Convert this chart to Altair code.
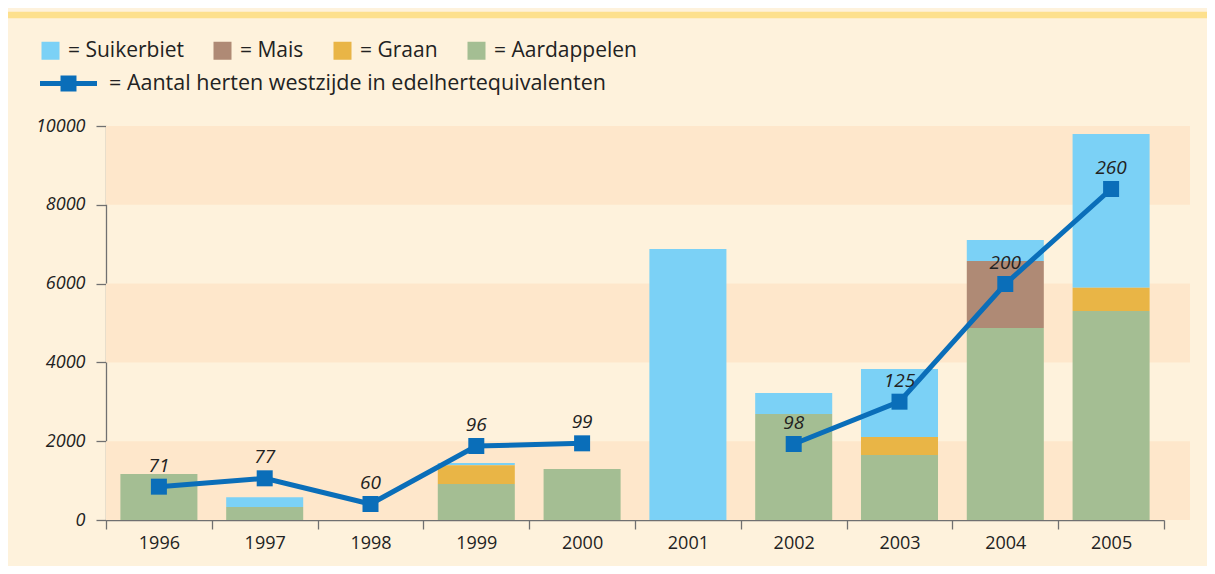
import altair as alt
import pandas as pd

# ---- data ----
years = ["1996", "1997", "1998", "1999", "2000", "2001", "2002", "2003", "2004", "2005"]
suikerbiet = [0, 250, 0, 60, 0, 6880, 533, 1725, 534, 3900]
mais = [0, 0, 0, 0, 0, 0, 0, 0, 1700, 0]
graan = [0, 0, 0, 473, 0, 0, 0, 457, 0, 591]
aardappelen = [1170, 330, 0, 914, 1294, 0, 2690, 1650, 4873, 5305]
herten_y = [846, 1058, 406, 1878, 1946, None, 1929, 3003, 5990, 8401]
herten_label = [71, 77, 60, 96, 99, None, 98, 125, 200, 260]
segment = [1, 1, 1, 1, 1, None, 2, 2, 2, 2]

crops = ["Suikerbiet", "Mais", "Graan", "Aardappelen"]
crop_colors = ["#7BD1F6", "#AF8A75", "#E9B546", "#A4BE93"]
stack_order = {"Aardappelen": 0, "Graan": 1, "Mais": 2, "Suikerbiet": 3}
line_name = "Aantal herten westzijde in edelhertequivalenten"
y_ticks = [0, 2000, 4000, 6000, 8000, 10000]
band_starts = [0, 4000, 8000]

FONT = "Open Sans"
BLUE = "#0A6EB9"
BG = "#FEF2DC"
BAND = "#FEE7CB"
AXIS = "#707070"
TXT = "#222222"
LEG_FS = 21

rows = []
for name, vals in zip(crops, [suikerbiet, mais, graan, aardappelen]):
    for y, v in zip(years, vals):
        if v > 0:
            rows.append({"jaar": y, "gewas": name, "waarde": v, "volgorde": stack_order[name]})
bars_df = pd.DataFrame(rows)

line_df = pd.DataFrame({"jaar": years, "herten": herten_y, "label": herten_label,
                        "seg": segment, "reeks": [line_name] * len(years)}).dropna()
bands_df = pd.DataFrame({"start": band_starts, "end": [s + 2000 for s in band_starts]})

W, H = 1058, 394

xscale = alt.Scale(domain=years, paddingInner=0, paddingOuter=0)
yscale = alt.Scale(domain=[0, 10000], nice=False)

x_enc = alt.X("jaar:N", scale=xscale, sort=years,
              axis=alt.Axis(title=None, labelAngle=0, tickBand="extent", tickSize=9,
                            labelFontSize=18, labelFont=FONT, labelColor=TXT, labelPadding=5,
                            domainColor=AXIS, tickColor=AXIS, domainWidth=1.3, tickWidth=1.3))

bands = alt.Chart(bands_df).mark_rect(color=BAND).encode(
    y=alt.Y("start:Q", scale=yscale,
            axis=alt.Axis(title=None, values=y_ticks, format="d", grid=False,
                          labelFontStyle="italic", labelFontSize=18, labelFont=FONT,
                          labelColor=TXT, tickSize=10, labelPadding=11,
                          domainColor=AXIS, tickColor=AXIS, domainWidth=1.3, tickWidth=1.3)),
    y2="end:Q",
    x=alt.value(0),
    x2=alt.value(1084),
)

bars = alt.Chart(bars_df).mark_bar(width=alt.RelativeBandSize(0.728)).encode(
    x=x_enc,
    y=alt.Y("waarde:Q", stack="zero", scale=yscale),
    color=alt.Color("gewas:N", scale=alt.Scale(domain=crops, range=crop_colors),
                    legend=alt.Legend(orient="none", legendX=-66, legendY=-86,
                                      direction="horizontal", title=None,
                                      symbolType="square", symbolSize=324,
                                      symbolStrokeWidth=0, symbolOpacity=1,
                                      labelExpr="'= ' + datum.label",
                                      labelFontSize=LEG_FS, labelFont=FONT, labelColor=TXT,
                                      labelLimit=0, labelOffset=7, columnPadding=28)),
    order=alt.Order("volgorde:Q"),
)

line = alt.Chart(line_df).mark_line(color=BLUE, strokeWidth=5).encode(
    x=alt.X("jaar:N", scale=xscale, sort=years),
    y=alt.Y("herten:Q", scale=yscale),
    detail="seg:N",
)

legend_path = ("M-1,-0.088 L-0.28,-0.088 L-0.28,-0.28 L0.28,-0.28 L0.28,-0.088 L1,-0.088 "
               "L1,0.088 L0.28,0.088 L0.28,0.28 L-0.28,0.28 L-0.28,0.088 L-1,0.088 Z")

points = alt.Chart(line_df).mark_point(filled=True, shape="square", size=256, opacity=1).encode(
    x=alt.X("jaar:N", scale=xscale, sort=years),
    y=alt.Y("herten:Q", scale=yscale),
    fill=alt.Fill("reeks:N", scale=alt.Scale(domain=[line_name], range=[BLUE]),
                  legend=alt.Legend(orient="none", legendX=-66, legendY=-71, title=None,
                                    symbolType=legend_path, symbolSize=3249,
                                    symbolStrokeWidth=0, symbolOpacity=1,
                                    labelExpr="'= ' + datum.label",
                                    labelFontSize=21.5, labelFont=FONT, labelColor=TXT,
                                    labelLimit=0, labelOffset=12)),
)

labels = alt.Chart(line_df).mark_text(dy=-15, baseline="alphabetic", fontStyle="italic",
                                      fontSize=19, font=FONT, color=TXT).encode(
    x=alt.X("jaar:N", scale=xscale, sort=years),
    y=alt.Y("herten:Q", scale=yscale),
    text=alt.Text("label:Q", format="d"),
)

top_rule = alt.Chart(pd.DataFrame({"k": [0]})).mark_rule(color="#FDE08D", strokeWidth=6.5).encode(
    x=alt.value(-98), x2=alt.value(1101), y=alt.value(-111)
)

chart = alt.layer(bands, bars, line, points, labels, top_rule).properties(
    width=W, height=H,
    autosize=alt.AutoSizeParams(type="none"),
    padding={"left": 98, "top": 118, "right": 43, "bottom": 46},
    background=BG,
).configure_view(stroke=None)

chart.save("out.html", embed_options={"renderer": "svg", "actions": False})
